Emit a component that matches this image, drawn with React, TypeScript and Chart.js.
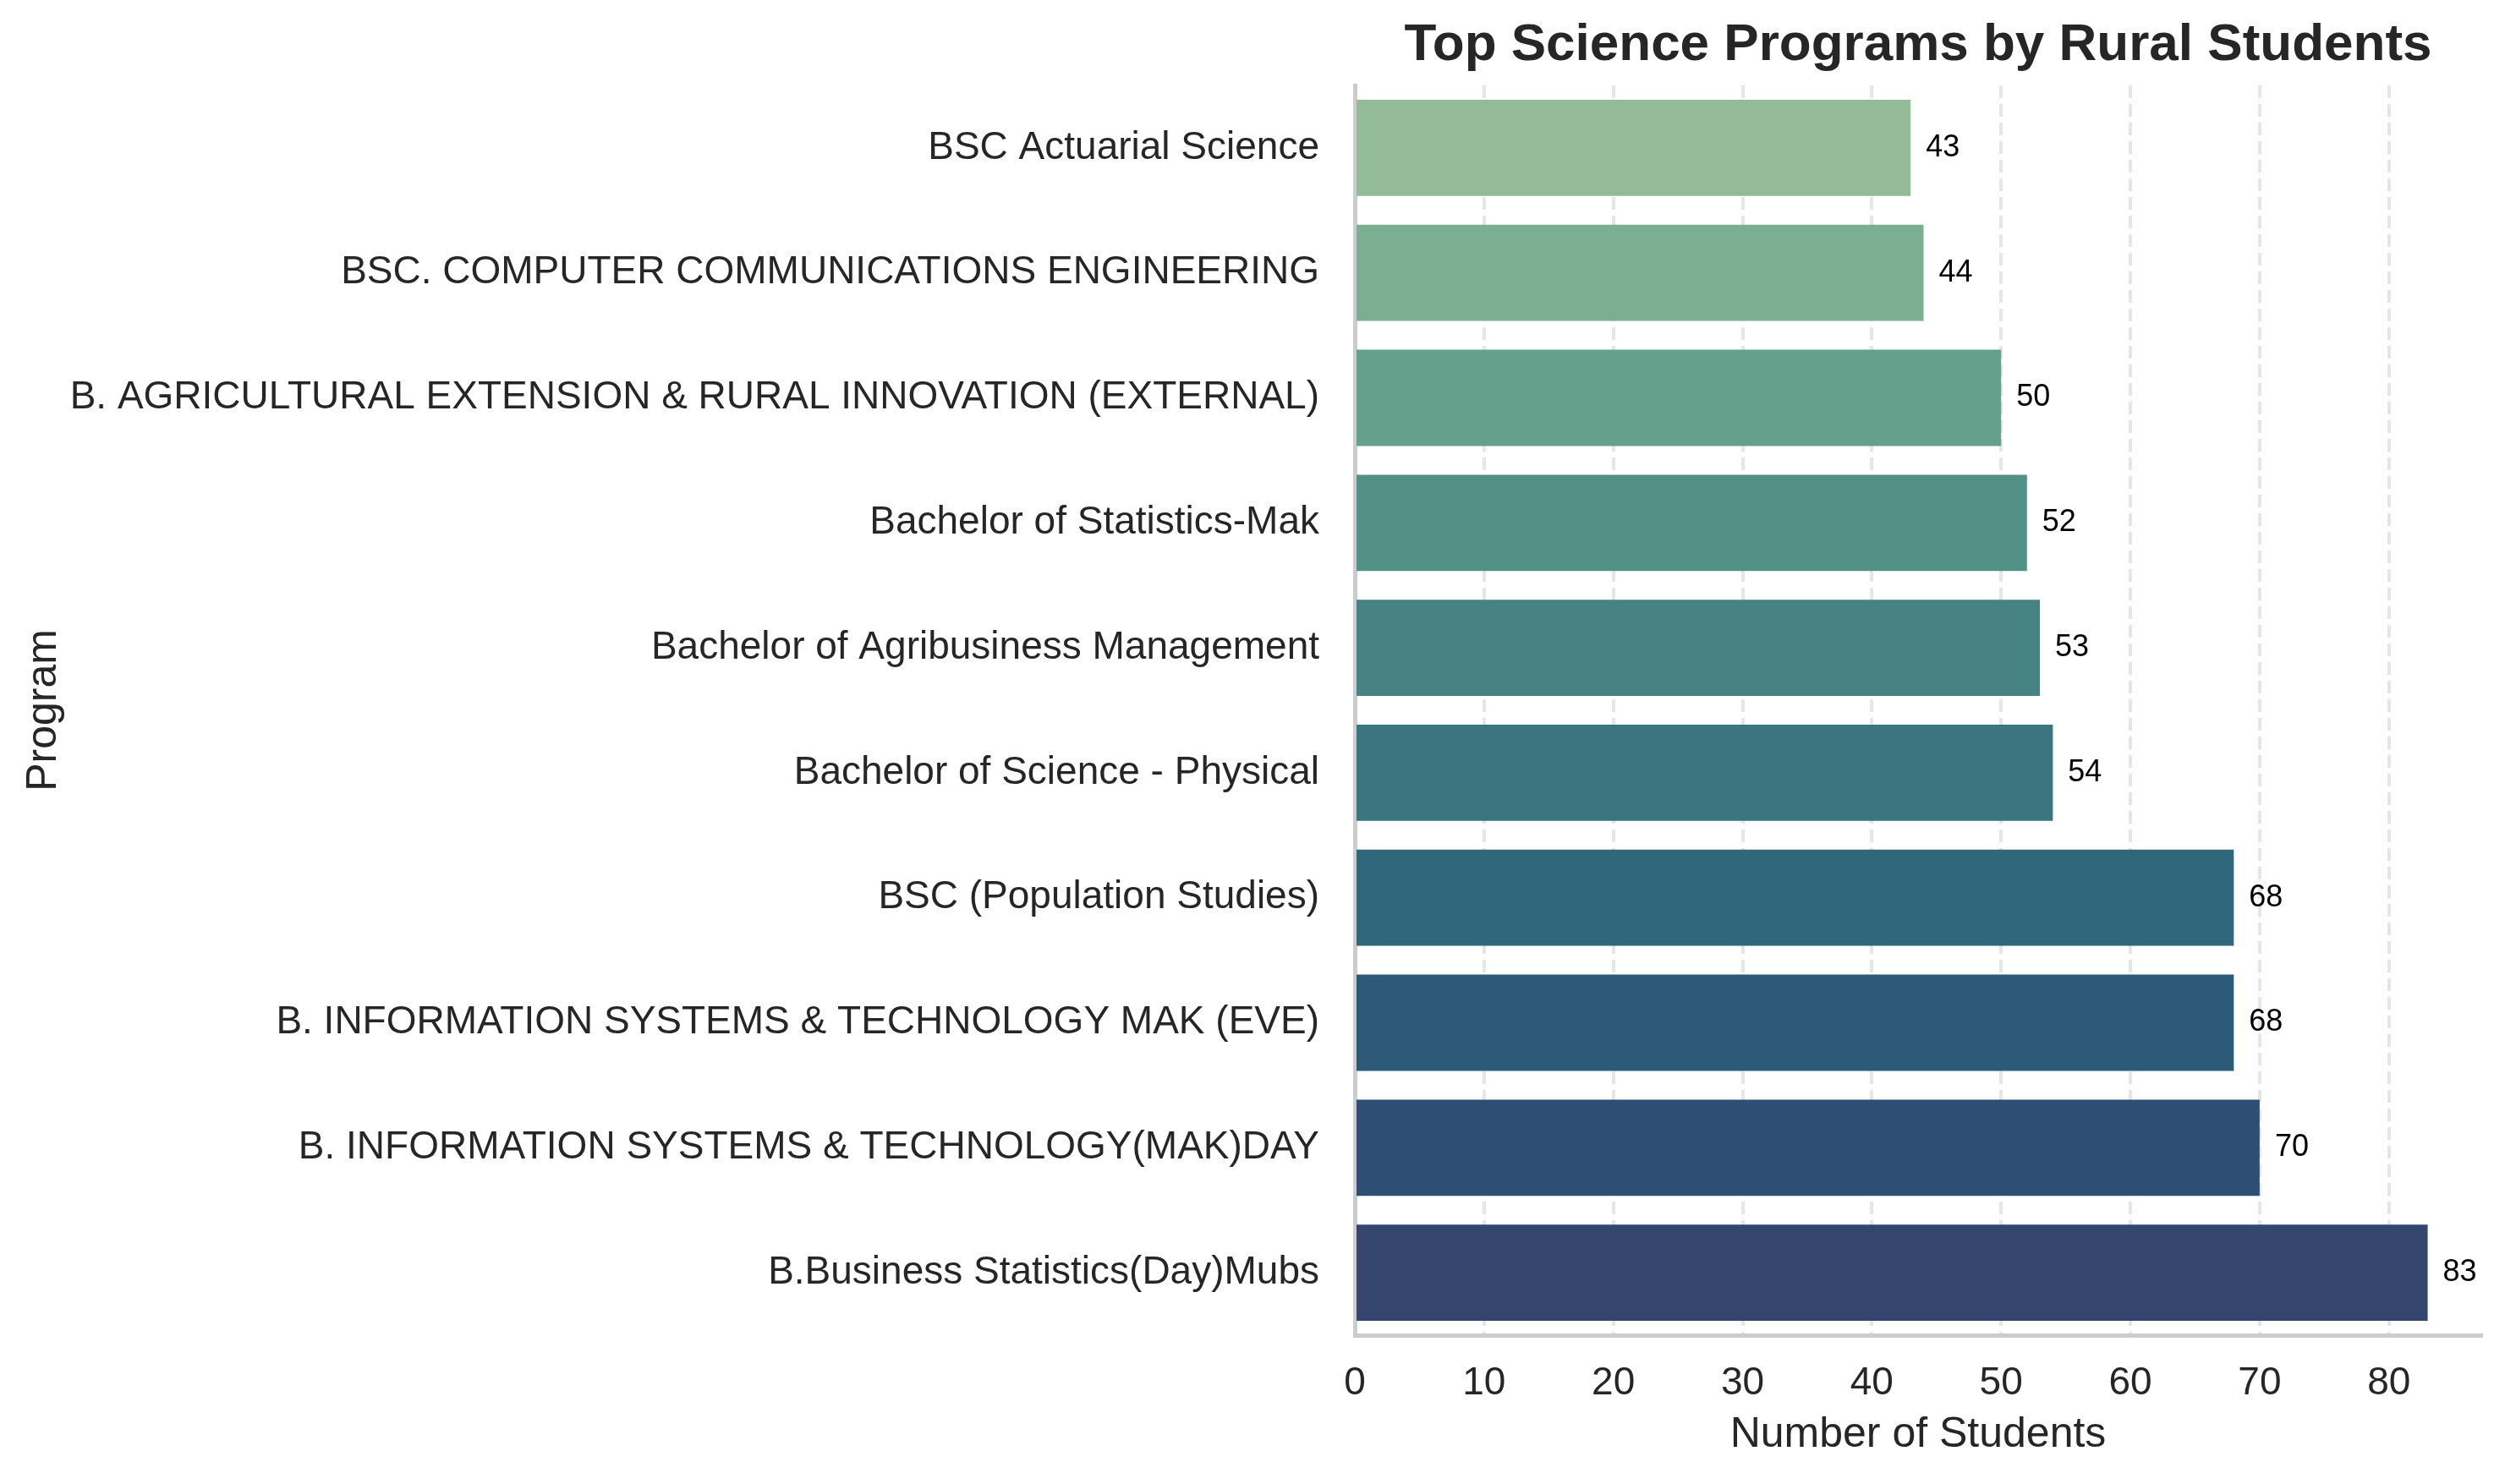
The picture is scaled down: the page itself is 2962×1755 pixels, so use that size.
import React, { useEffect, useRef } from "react";
import { Chart, registerables } from "chart.js";

Chart.register(...registerables);

const programs = [
  "BSC Actuarial Science",
  "BSC. COMPUTER COMMUNICATIONS ENGINEERING",
  "B. AGRICULTURAL EXTENSION & RURAL INNOVATION (EXTERNAL)",
  "Bachelor of Statistics-Mak",
  "Bachelor of Agribusiness Management",
  "Bachelor of Science - Physical",
  "BSC (Population Studies)",
  "B. INFORMATION SYSTEMS & TECHNOLOGY MAK (EVE)",
  "B. INFORMATION SYSTEMS & TECHNOLOGY(MAK)DAY",
  "B.Business Statistics(Day)Mubs",
];

const students = [43, 44, 50, 52, 53, 54, 68, 68, 70, 83];

const barColors = [
  "#93bb97",
  "#7cae92",
  "#65a08c",
  "#539186",
  "#478382",
  "#3b757f",
  "#30677a",
  "#2c5a77",
  "#2f4e73",
  "#34466e",
];

const xTickValues = [0, 10, 20, 30, 40, 50, 60, 70, 80];

const titleText = "Top Science Programs by Rural Students";
const xAxisLabel = "Number of Students";
const yAxisLabel = "Program";

const FAMILY = "'Liberation Sans', Arial, Helvetica, sans-serif";
const TEXT = "#262626";

export default function App() {
  const ref = useRef<HTMLCanvasElement>(null);

  useEffect(() => {
    document.body.style.margin = "0";
    const canvas = ref.current;
    if (!canvas) return;

    const valueLabels = {
      id: "valueLabels",
      afterDatasetsDraw(chart: any) {
        const ctx = chart.ctx;
        const meta = chart.getDatasetMeta(0);
        ctx.save();
        ctx.font = `36px ${FAMILY}`;
        ctx.fillStyle = "#000000";
        ctx.textAlign = "left";
        ctx.textBaseline = "middle";
        meta.data.forEach((el: any, i: number) => {
          ctx.fillText(String(students[i]), el.x + 18, el.y);
        });
        ctx.restore();
      },
    };

    const chart = new Chart(canvas, {
      type: "bar",
      data: {
        labels: programs,
        datasets: [
          {
            data: students,
            backgroundColor: barColors,
            borderWidth: 0,
            barPercentage: 0.77,
            categoryPercentage: 1,
          },
        ],
      },
      options: {
        indexAxis: "y",
        responsive: false,
        animation: false,
        devicePixelRatio: 1,
        layout: { padding: { left: 0, right: 28, top: 0, bottom: 0 } },
        plugins: {
          legend: { display: false },
          tooltip: { enabled: false },
          title: {
            display: true,
            text: titleText,
            fullSize: false,
            color: TEXT,
            font: { family: FAMILY, size: 62, weight: "bold" },
            padding: { top: 17, bottom: 9.6 },
          },
        },
        scales: {
          x: {
            type: "linear",
            position: "bottom",
            min: 0,
            max: 87.15,
            afterBuildTicks: (s: any) => {
              s.ticks = xTickValues.map((v) => ({ value: v }));
            },
            afterFit: (s: any) => {
              s.height = 176;
            },
            ticks: {
              color: TEXT,
              font: { family: FAMILY, size: 46 },
              padding: 30,
              maxRotation: 0,
              autoSkip: false,
            },
            grid: {
              display: true,
              color: "#e6e6e6",
              lineWidth: 4,
              drawTicks: false,
            },
            border: { display: true, color: "#cccccc", width: 5, dash: [15, 7] },
            title: {
              display: true,
              text: xAxisLabel,
              color: TEXT,
              font: { family: FAMILY, size: 50 },
              padding: { top: 0, bottom: 28 },
            },
          },
          y: {
            type: "category",
            position: "left",
            afterFit: (s: any) => {
              s.width = 1602;
            },
            ticks: {
              color: TEXT,
              font: { family: FAMILY, size: 46 },
              padding: 42,
              autoSkip: false,
            },
            grid: { display: false, drawTicks: false },
            border: { display: true, color: "#cccccc", width: 5 },
            title: {
              display: true,
              text: yAxisLabel,
              color: TEXT,
              font: { family: FAMILY, size: 50 },
              padding: { top: 22, bottom: 0 },
            },
          },
        },
      },
      plugins: [valueLabels],
    } as any);

    return () => chart.destroy();
  }, []);

  return (
    <div style={{ width: 2962, height: 1755, background: "#ffffff" }}>
      <canvas ref={ref} width={2962} height={1755} style={{ display: "block" }} />
    </div>
  );
}
